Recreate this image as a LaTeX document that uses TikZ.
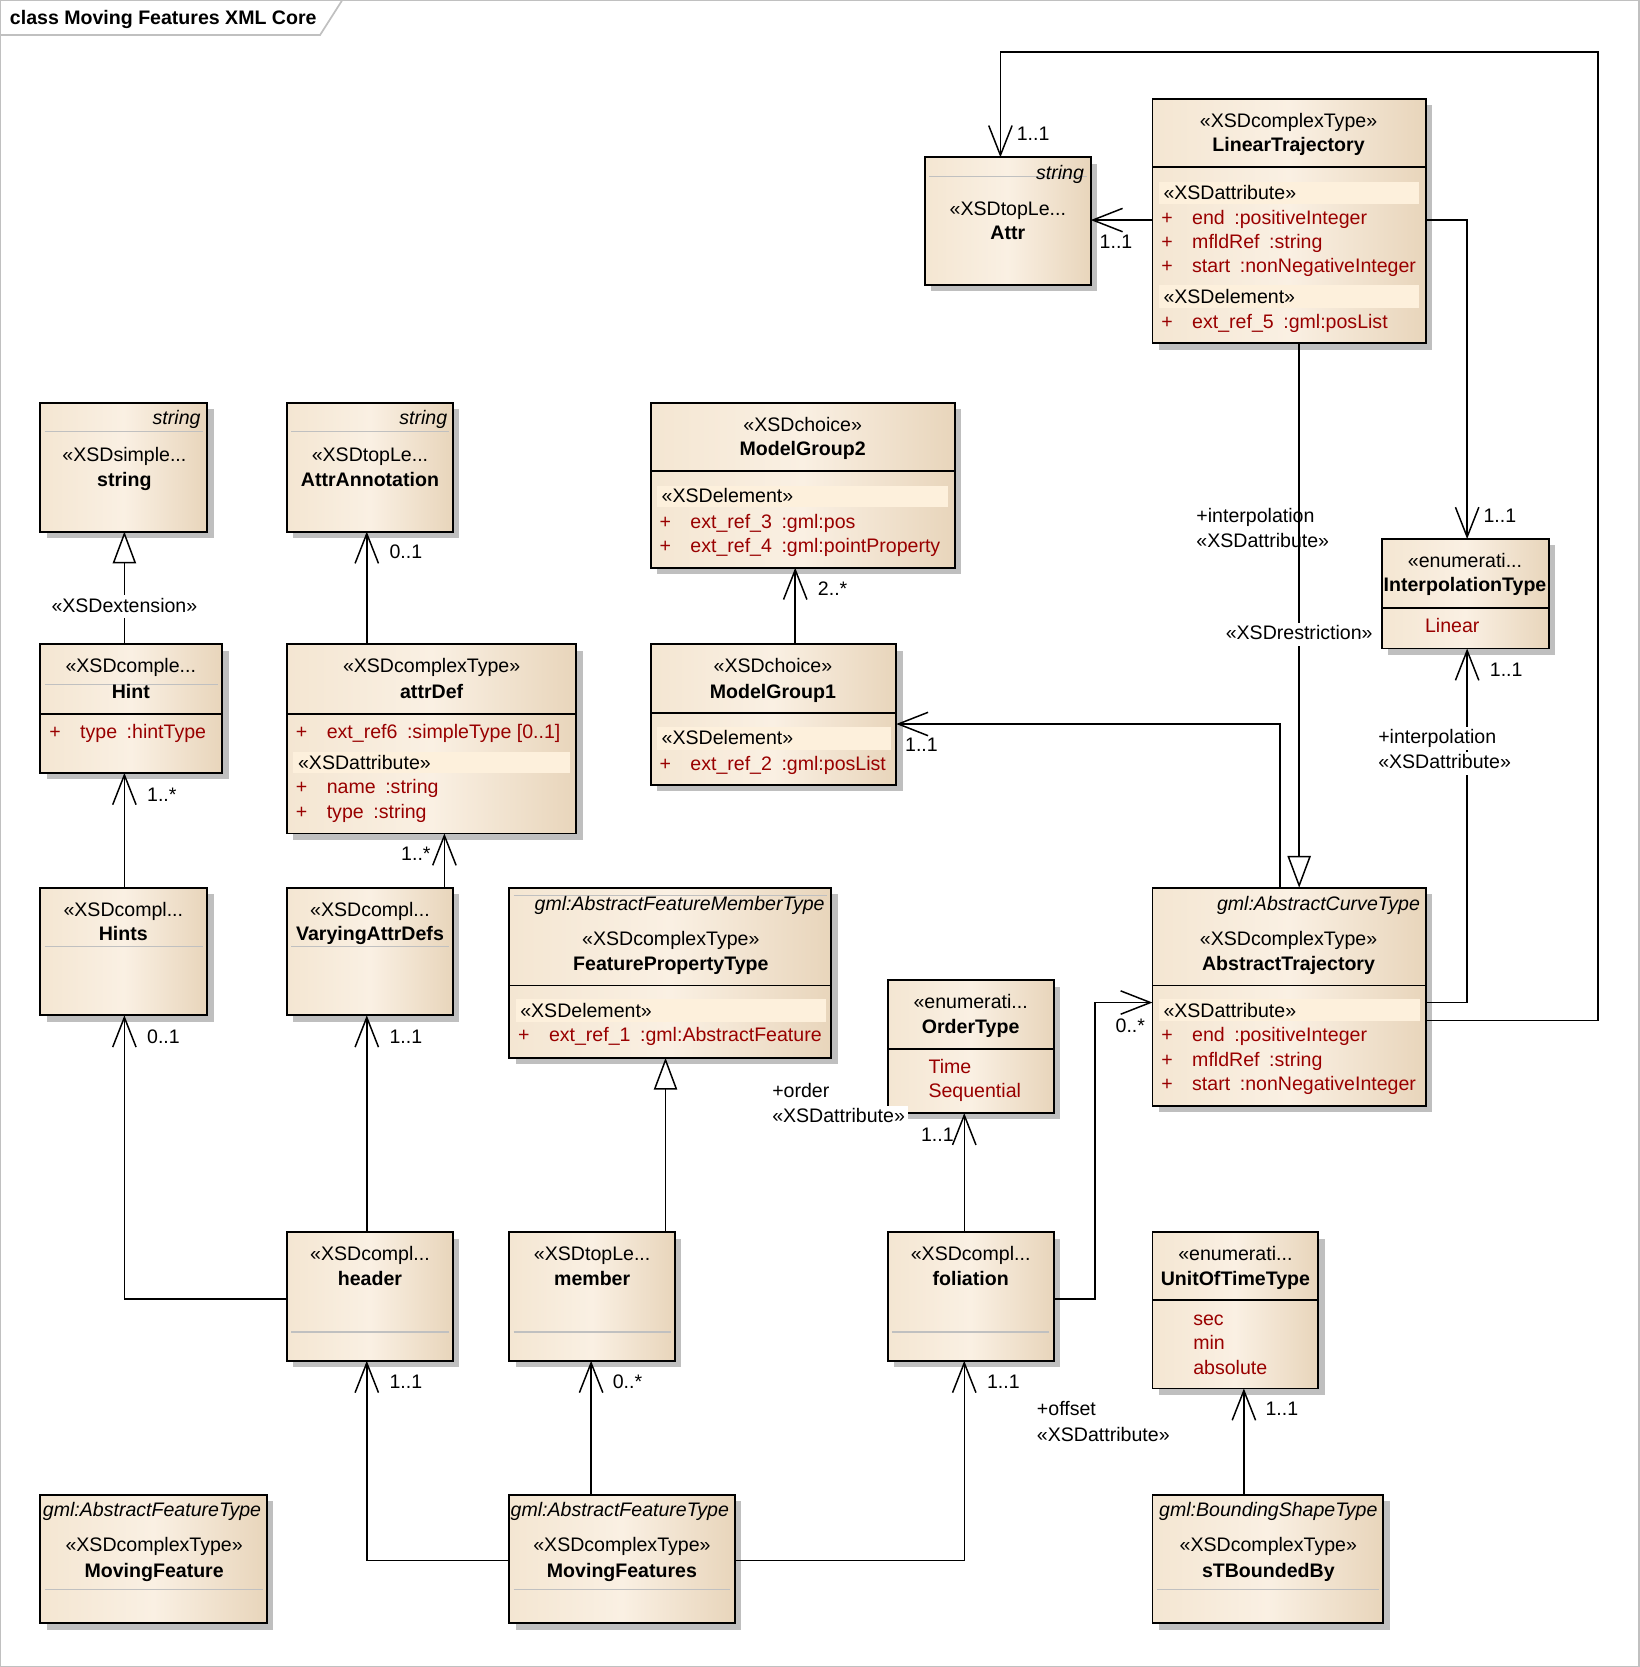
\documentclass[tikz,border=0pt]{standalone}
\usepackage{fontspec}
\setmainfont{Liberation Sans}
\usepackage{tikz}
\usetikzlibrary{arrows.meta,positioning,calc,fit,shadows}

\definecolor{clsL}{HTML}{F4E6D2}
\definecolor{clsM}{HTML}{FAF0E3}
\definecolor{clsR}{HTML}{E8D5BB}
\definecolor{bandc}{HTML}{FDF0DC}
\definecolor{attrred}{HTML}{990000}
\definecolor{sepgray}{HTML}{C0C0C0}

\newcommand{\pl}{\makebox[14.5pt][l]{+}}
\newcommand{\gap}{\hspace{4.5pt}}
\newcommand{\el}{...}

\begin{document}
\begin{tikzpicture}[
  x=0.5pt,
  y=-0.5pt,
  >=Latex,
  txt/.style={font=\fontsize{9.2}{11}\selectfont, inner sep=0pt, text height=6.8pt, text depth=1.9pt, yshift=-0.9pt},
  cls/.style={draw=black, line width=0.9pt, inner sep=0pt, outer sep=0pt,
    left color=clsL, right color=clsR, middle color=clsM,
    drop shadow={shadow xshift=3pt, shadow yshift=-3pt, fill=black!25, opacity=1}},
  stereo/.style={txt},
  cname/.style={txt, font=\fontsize{9.2}{11}\selectfont\bfseries},
  gmlbase/.style={txt, font=\fontsize{9.2}{11}\selectfont\itshape, anchor=east},
  attr/.style={txt, text=attrred, anchor=west},
  sect/.style={txt, anchor=west},
  band/.style={fill=bandc},
  divider/.style={draw=black, line width=0.9pt},
  sep/.style={draw=sepgray, line width=0.6pt},
  assoc/.style={draw=black, line width=0.7pt, -{Straight Barb[length=14pt, width=11pt]}},
  gen/.style={draw=black, line width=0.7pt, -{Triangle[length=15pt, width=11pt, fill=white]}},
  mult/.style={txt, anchor=west},
  role/.style={txt, anchor=west},
  rolebg/.style={txt, anchor=west, fill=white, inner xsep=1.5pt, inner ysep=1pt}
]
\useasboundingbox (0,0) rectangle (1542,1568);

% Frame and title tab.
\draw[sepgray, line width=0.8pt] (0.5,0.5) rectangle (1541.5,1567.5);
\draw[sepgray, line width=0.8pt] (0,33) -- (301,33) -- (322,0);
\node[txt, font=\fontsize{9.2}{11}\selectfont\bfseries, anchor=west] (title) at (9,16) {class Moving Features XML Core};

% Class boxes: corners in picture units.
\node[cls, fit={(38,379) (195,500)}] (str) {};
\node[cls, fit={(270,379) (426,500)}] (aan) {};
\node[cls, fit={(612,379) (898,534)}] (mg2) {};
\node[cls, fit={(870,148) (1026,268)}] (atr) {};
\node[cls, fit={(1084,93) (1341,323)}] (lt) {};
\node[cls, fit={(1300,507) (1457,610)}] (ip) {};
\node[cls, fit={(38,606) (209,727)}] (hint) {};
\node[cls, fit={(270,606) (542,784)}] (ad) {};
\node[cls, fit={(612,606) (843,738)}] (mg1) {};
\node[cls, fit={(38,835) (195,955)}] (hints) {};
\node[cls, fit={(270,835) (426,955)}] (vad) {};
\node[cls, fit={(479,835) (782,995)}] (fpt) {};
\node[cls, fit={(835,922) (991,1047)}] (ot) {};
\node[cls, fit={(1084,835) (1341,1040)}] (at) {};
\node[cls, fit={(270,1159) (426,1280)}] (hdr) {};
\node[cls, fit={(479,1159) (635,1280)}] (mem) {};
\node[cls, fit={(835,1159) (991,1280)}] (fol) {};
\node[cls, fit={(1084,1159) (1240,1306)}] (ut) {};
\node[cls, fit={(38,1406) (251,1527)}] (mf) {};
\node[cls, fit={(479,1406) (691,1527)}] (mfs) {};
\node[cls, fit={(1084,1406) (1301,1527)}] (stb) {};

% Stereotype bands inside compartments.
\fill[band] (1090,171) rectangle (1335,192);
\fill[band] (1090,268) rectangle (1335,290);
\fill[band] (618,457) rectangle (892,477);
\fill[band] (276,707) rectangle (536,727);
\fill[band] (618,684) rectangle (838,705);
\fill[band] (485,940) rectangle (777,961);
\fill[band] (1090,940) rectangle (1336,960);

% Compartment dividers.
\foreach \n/\yy in {mg2/443,lt/157,ip/572,hint/672,ad/672,mg1/671,fpt/927,ot/987,at/927,ut/1223} {
  \draw[divider] (\n.west |- 0,\yy) -- (\n.east |- 0,\yy);
}
\foreach \n/\yy in {str/406,aan/406,atr/166,hint/644,hints/890,vad/890,fpt/842,hdr/1253,mem/1253,fol/1253,mf/1495,mfs/1495,stb/1495} {
  \draw[sep] ($(\n.west |- 0,\yy)+(4,0)$) -- ($(\n.east |- 0,\yy)+(-4,0)$);
}

% string, AttrAnnotation, Attr.
\node[gmlbase] (str-base) at (189,393) {string};
\node[stereo] (str-st) at (117,427) {«XSDsimple\el};
\node[cname] (str-nm) at (117,451) {string};
\node[gmlbase] (aan-base) at (421,393) {string};
\node[stereo] (aan-st) at (348,427) {«XSDtopLe\el};
\node[cname] (aan-nm) at (348,451) {AttrAnnotation};
\node[gmlbase] (atr-base) at (1020,162) {string};
\node[stereo] (atr-st) at (948,196) {«XSDtopLe\el};
\node[cname] (atr-nm) at (948,219) {Attr};

% ModelGroup2 and ModelGroup1.
\node[stereo] (mg2-st) at (755,399) {«XSDchoice»};
\node[cname] (mg2-nm) at (755,422) {ModelGroup2};
\node[sect] (mg2-s1) at (622,466) {«XSDelement»};
\node[attr] (mg2-a1) at (620,490) {\pl ext\_ref\_3\gap:gml:pos};
\node[attr] (mg2-a2) at (620,513) {\pl ext\_ref\_4\gap:gml:pointProperty};
\node[stereo] (mg1-st) at (727,626) {«XSDchoice»};
\node[cname] (mg1-nm) at (727,650) {ModelGroup1};
\node[sect] (mg1-s1) at (622,694) {«XSDelement»};
\node[attr] (mg1-a1) at (620,718) {\pl ext\_ref\_2\gap:gml:posList};

% LinearTrajectory.
\node[stereo] (lt-st) at (1212,113) {«XSDcomplexType»};
\node[cname] (lt-nm) at (1212,136) {LinearTrajectory};
\node[sect] (lt-s1) at (1094,181) {«XSDattribute»};
\node[attr] (lt-a1) at (1092,204) {\pl end\gap:positiveInteger};
\node[attr] (lt-a2) at (1092,227) {\pl mfldRef\gap:string};
\node[attr] (lt-a3) at (1092,250) {\pl start\gap:nonNegativeInteger};
\node[sect] (lt-s2) at (1094,279) {«XSDelement»};
\node[attr] (lt-a4) at (1092,302) {\pl ext\_ref\_5\gap:gml:posList};

% InterpolationType.
\node[stereo] (ip-st) at (1378,527) {«enumerati\el};
\node[cname] (ip-nm) at (1378,550) {InterpolationType};
\node[attr] (ip-a1) at (1340,588) {Linear};

% Hint and attrDef.
\node[stereo] (hint-st) at (123,626) {«XSDcomple\el};
\node[cname] (hint-nm) at (123,650) {Hint};
\node[attr] (hint-a1) at (46,688) {\pl type\gap:hintType};
\node[stereo] (ad-st) at (406,626) {«XSDcomplexType»};
\node[cname] (ad-nm) at (406,650) {attrDef};
\node[attr] (ad-a1) at (278,688) {\pl ext\_ref6\gap:simpleType [0..1]};
\node[sect] (ad-s1) at (280,717) {«XSDattribute»};
\node[attr] (ad-a2) at (278,740) {\pl name\gap:string};
\node[attr] (ad-a3) at (278,763) {\pl type\gap:string};

% Plain element boxes.
\foreach \n/\cx/\yy/\st/\nm in {hints/116/855/XSDcompl\el/Hints, vad/348/855/XSDcompl\el/VaryingAttrDefs,
    hdr/348/1179/XSDcompl\el/header, mem/557/1179/XSDtopLe\el/member, fol/913/1179/XSDcompl\el/foliation} {
  \node[stereo] (\n-st) at (\cx,\yy) {«\st};
  \node[cname] (\n-nm) at (\cx,\yy+23) {\nm};
}

% FeaturePropertyType.
\node[gmlbase] (fpt-base) at (776,850) {gml:AbstractFeatureMemberType};
\node[stereo] (fpt-st) at (631,883) {«XSDcomplexType»};
\node[cname] (fpt-nm) at (631,906) {FeaturePropertyType};
\node[sect] (fpt-s1) at (489,950) {«XSDelement»};
\node[attr] (fpt-a1) at (487,973) {\pl ext\_ref\_1\gap:gml:AbstractFeature};

% OrderType.
\node[stereo] (ot-st) at (913,942) {«enumerati\el};
\node[cname] (ot-nm) at (913,965) {OrderType};
\node[attr] (ot-a1) at (873,1003) {Time};
\node[attr] (ot-a2) at (873,1026) {Sequential};

% AbstractTrajectory.
\node[gmlbase] (at-base) at (1336,850) {gml:AbstractCurveType};
\node[stereo] (at-st) at (1212,883) {«XSDcomplexType»};
\node[cname] (at-nm) at (1212,906) {AbstractTrajectory};
\node[sect] (at-s1) at (1094,950) {«XSDattribute»};
\node[attr] (at-a1) at (1092,973) {\pl end\gap:positiveInteger};
\node[attr] (at-a2) at (1092,996) {\pl mfldRef\gap:string};
\node[attr] (at-a3) at (1092,1019) {\pl start\gap:nonNegativeInteger};

% UnitOfTimeType.
\node[stereo] (ut-st) at (1162,1179) {«enumerati\el};
\node[cname] (ut-nm) at (1162,1202) {UnitOfTimeType};
\node[attr] (ut-a1) at (1122,1240) {sec};
\node[attr] (ut-a2) at (1122,1263) {min};
\node[attr] (ut-a3) at (1122,1286) {absolute};

% Bottom row complex types.
\foreach \n/\rx/\cx/\base/\nm in {mf/246/145/AbstractFeatureType/MovingFeature,
    mfs/686/585/AbstractFeatureType/MovingFeatures, stb/1296/1193/BoundingShapeType/sTBoundedBy} {
  \node[gmlbase] (\n-base) at (\rx,1420) {gml:\base};
  \node[stereo] (\n-st) at (\cx,1453) {«XSDcomplexType»};
  \node[cname] (\n-nm) at (\cx,1477) {\nm};
}

% Connectors.
\draw[gen] (hint.north -| 117,0) -- (str.south -| 117,0);
\draw[assoc] (ad.north -| 345,0) -- (aan.south -| 345,0);
\draw[assoc] (mg1.north -| 748,0) -- (mg2.south -| 748,0);
\draw[assoc] (at.north -| 1204,0) |- (mg1.east |- 0,681);
\draw[gen] (lt.south -| 1222,0) -- (at.north -| 1222,0);
\draw[assoc] (lt.east |- 0,207) -| (ip.north -| 1380,0);
\draw[assoc] (at.east |- 0,943) -| (ip.south -| 1380,0);
\draw[assoc] (at.east |- 0,960) -| (1503,49) -| (atr.north -| 941,0);
\draw[assoc] (lt.west |- 0,207) -- (atr.east |- 0,207);
\draw[assoc] (hints.north -| 117,0) -- (hint.south -| 117,0);
\draw[assoc] (vad.north -| 418,0) -- (ad.south -| 418,0);
\draw[assoc] (hdr.west |- 0,1222) -| (hints.south -| 117,0);
\draw[assoc] (hdr.north -| 345,0) -- (vad.south -| 345,0);
\draw[gen] (mem.north -| 626,0) -- (fpt.south -| 626,0);
\draw[assoc] (fol.north -| 907,0) -- (ot.south -| 907,0);
\draw[assoc] (fol.east |- 0,1222) -| (1030,943) -- (at.west |- 0,943);
\draw[assoc] (mfs.west |- 0,1468) -| (hdr.south -| 345,0);
\draw[assoc] (mfs.north -| 556,0) -- (mem.south -| 556,0);
\draw[assoc] (mfs.east |- 0,1468) -| (fol.south -| 907,0);
\draw[assoc] (stb.north -| 1170,0) -- (ut.south -| 1170,0);

% Connector labels.
\node[rolebg, anchor=center] (l-ext) at (117,569) {«XSDextension»};
\node[rolebg, anchor=center] (l-res) at (1222,595) {«XSDrestriction»};
\node[role] (l-ip1) at (1125,485) {+interpolation};
\node[role] (l-ip2) at (1125,508) {«XSDattribute»};
\node[rolebg] (l-ip3) at (1293,693) {+interpolation};
\node[rolebg] (l-ip4) at (1293,716) {«XSDattribute»};
\node[rolebg] (l-or1) at (723,1026) {+order};
\node[rolebg] (l-or2) at (723,1049) {«XSDattribute»};
\node[role] (l-of1) at (975,1325) {+offset};
\node[role] (l-of2) at (975,1349) {«XSDattribute»};

\foreach \n/\xx/\yy/\lab in {m1/956/125/1..1, m2/1034/227/1..1, m3/1395/485/1..1, m4/1401/630/1..1,
    m5/366/519/0..1, m6/769/553/2..*, m7/851/700/1..1, m8/138/747/1..*, m9/377/803/1..*,
    m10/138/975/0..1, m11/366/975/1..1, m12/1049/964/0..*, m13/866/1067/1..1,
    m14/366/1299/1..1, m15/576/1299/0..*, m16/928/1299/1..1, m17/1190/1325/1..1} {
  \node[mult] (\n) at (\xx,\yy) {\lab};
}
\end{tikzpicture}
\end{document}
